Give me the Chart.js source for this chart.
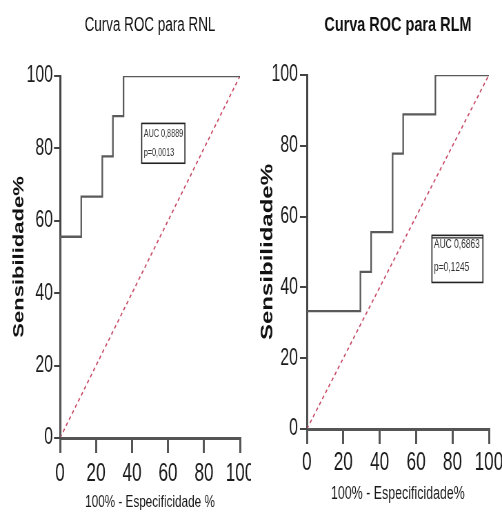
<!DOCTYPE html>
<html>
<head>
<meta charset="utf-8">
<script src="https://cdn.jsdelivr.net/npm/chart.js@4.4.0/dist/chart.umd.min.js"></script>
<style>
  html, body { margin: 0; padding: 0; background: #fff; overflow: hidden; }
  /* the reference text is strongly condensed, so each chart is drawn wide and squeezed */
  .panel { position: absolute; top: 0; width: 364px; height: 514px; transform: scaleX(0.68956); transform-origin: 0 0; }
  #left-panel { left: 0; }
  #right-panel { left: 251px; }
</style>
</head>
<body>
<div class="panel" id="left-panel"><canvas id="rnl-chart" width="364" height="514"></canvas></div>
<div class="panel" id="right-panel"><canvas id="rlm-chart" width="364" height="514"></canvas></div>
<script>
// ROC vertices: 100% - specificity, sensitivity
const rnlX = [0, 0, 11.8, 23.5, 29.4, 35.3, 100];
const rnlY = [0, 55.6, 66.7, 77.8, 88.9, 100, 100];
const rlmX = [0, 0, 29.4, 35.3, 47.1, 52.9, 70.6, 100];
const rlmY = [0, 33.3, 44.4, 55.6, 77.8, 88.9, 100, 100];

// chance line
const refX = [0, 100];
const refY = [0, 100];

const axisTicks = [0, 20, 40, 60, 80, 100];

const rnlStats = ['AUC 0,8889', 'p=0,0013'];
const rlmStats = ['AUC 0,6863', 'p=0,1245'];

const FONT = '"Liberation Sans", Arial, sans-serif';
const NARROW = '"Liberation Sans Narrow", "Liberation Sans", Arial, sans-serif';

function toPoints(xs, ys) {
    return xs.map((x, i) => ({ x: x, y: ys[i] }));
}

// Draws the small AUC / p box inside the plot
const statsBoxPlugin = {
    id: 'statsBox',
    afterDatasetsDraw(chart, args, opts) {
        if (!opts.box) return;
        const { ctx } = chart;
        const xs = chart.scales.x;
        const ys = chart.scales.y;
        const b = opts.box;
        const left = xs.getPixelForValue(b.x0);
        const right = xs.getPixelForValue(b.x1);
        const top = ys.getPixelForValue(b.y0);
        const bottom = ys.getPixelForValue(b.y1);

        ctx.save();
        ctx.fillStyle = '#fff';
        ctx.fillRect(left, top, right - left, bottom - top);
        ctx.strokeStyle = '#222';
        ctx.lineWidth = 1.6;
        ctx.strokeRect(left, top, right - left, bottom - top);
        if (b.heavyTop) {
            // doubled top rule
            ctx.lineWidth = 1.2;
            ctx.beginPath();
            ctx.moveTo(left, top + 2.5);
            ctx.lineTo(right, top + 2.5);
            ctx.stroke();
        }
        ctx.fillStyle = '#333';
        ctx.font = b.fontSize + 'px ' + FONT;
        ctx.textBaseline = 'middle';
        ctx.textAlign = 'left';
        opts.lines.forEach((text, i) => {
            ctx.fillText(text, left + 3, top + b.lineOffsets[i]);
        });
        ctx.restore();
    }
};

function makeRocChart(canvas, cfg) {
    return new Chart(canvas, {
        type: 'line',
        data: {
            datasets: [{
                data: toPoints(cfg.xs, cfg.ys),
                borderColor: '#5a5a5a',
                borderWidth: 2.3,
                stepped: true,
                pointRadius: 0,
                fill: false
            }, {
                data: toPoints(refX, refY),
                borderColor: '#c84a66',
                borderWidth: 1.7,
                borderDash: [4, 3.5],
                pointRadius: 0,
                fill: false
            }]
        },
        options: {
            responsive: false,
            animation: false,
            layout: {
                padding: { left: 0, right: cfg.padRight, top: 0, bottom: 0 }
            },
            plugins: {
                legend: { display: false },
                tooltip: { enabled: false },
                title: {
                    display: true,
                    fullSize: false,
                    text: cfg.title,
                    color: '#111',
                    font: { family: FONT, size: cfg.titleSize, weight: cfg.titleWeight, lineHeight: 1.2 },
                    padding: { top: cfg.titlePadTop, bottom: cfg.top - cfg.titlePadTop - cfg.titleSize * 1.2 }
                },
                statsBox: { box: cfg.box, lines: cfg.stats }
            },
            scales: {
                x: {
                    type: 'linear',
                    min: 0,
                    max: 100,
                    afterBuildTicks: (scale) => {
                        scale.ticks = axisTicks.map(v => ({ value: v }));
                    },
                    afterFit: (scale) => {
                        scale.height = cfg.xAxisHeight;
                        scale.paddingLeft = 0;
                        scale.paddingRight = 0;
                    },
                    border: { display: true, color: '#555', width: 3 },
                    grid: {
                        drawOnChartArea: false,
                        drawTicks: true,
                        tickLength: 15,
                        color: '#555',
                        lineWidth: 3
                    },
                    ticks: {
                        autoSkip: false,
                        maxRotation: 0,
                        padding: cfg.xTickPad,
                        color: '#1a1a1a',
                        font: { family: NARROW, size: 25 }
                    },
                    title: {
                        display: true,
                        text: cfg.xTitle,
                        color: '#1a1a1a',
                        font: { family: FONT, size: cfg.xTitleSize, lineHeight: 1.2 },
                        padding: { top: 0, bottom: cfg.xTitlePadBottom }
                    }
                },
                y: {
                    type: 'linear',
                    min: 0,
                    max: 100,
                    afterBuildTicks: (scale) => {
                        scale.ticks = axisTicks.map(v => ({ value: v }));
                    },
                    afterFit: (scale) => {
                        scale.width = cfg.yAxisWidth;
                        scale.paddingTop = 0;
                        scale.paddingBottom = 0;
                    },
                    border: { display: true, color: '#444', width: 3 },
                    grid: {
                        drawOnChartArea: false,
                        drawTicks: true,
                        tickLength: cfg.yTickLen,
                        color: '#444',
                        lineWidth: 2
                    },
                    ticks: {
                        autoSkip: false,
                        padding: cfg.yTickPad,
                        color: '#1a1a1a',
                        font: { family: FONT, size: 23 }
                    },
                    title: {
                        display: true,
                        text: 'Sensibilidade%',
                        color: '#111',
                        font: { family: FONT, size: cfg.yTitleSize, weight: 'bold', lineHeight: 1.2 },
                        padding: { top: cfg.yTitlePadTop, bottom: 0 }
                    }
                }
            }
        },
        plugins: [statsBoxPlugin]
    });
}

makeRocChart(document.getElementById('rnl-chart'), {
    xs: rnlX, ys: rnlY, stats: rnlStats,
    title: 'Curva ROC para RNL', titleSize: 19.5, titleWeight: 'normal', titlePadTop: 14,
    top: 76, padRight: 16, yAxisWidth: 87, xAxisHeight: 76,
    xTitle: '100% - Especificidade %', xTitleSize: 17, xTitlePadBottom: 1.8, xTickPad: 6,
    yTitleSize: 22, yTitlePadTop: 14.4, yTickLen: 8.7, yTickPad: 1.5,
    box: { x0: 45.4, x1: 69.4, y0: 86.9, y1: 75.9, fontSize: 10.5, lineOffsets: [11, 30], heavyTop: false }
});

makeRocChart(document.getElementById('rlm-chart'), {
    xs: rlmX, ys: rlmY, stats: rlmStats,
    title: 'Curva ROC para RLM', titleSize: 21, titleWeight: 'bold', titlePadTop: 13,
    top: 75, padRight: 19, yAxisWidth: 81, xAxisHeight: 85,
    xTitle: '100% - Especificidade%', xTitleSize: 18, xTitlePadBottom: 9.2, xTickPad: 4,
    yTitleSize: 24, yTitlePadTop: 10.2, yTickLen: 10, yTickPad: 3,
    box: { x0: 68.7, x1: 96.7, y0: 54.7, y1: 41.4, fontSize: 12.2, lineOffsets: [9.5, 32], heavyTop: true }
});
</script>
</body>
</html>
